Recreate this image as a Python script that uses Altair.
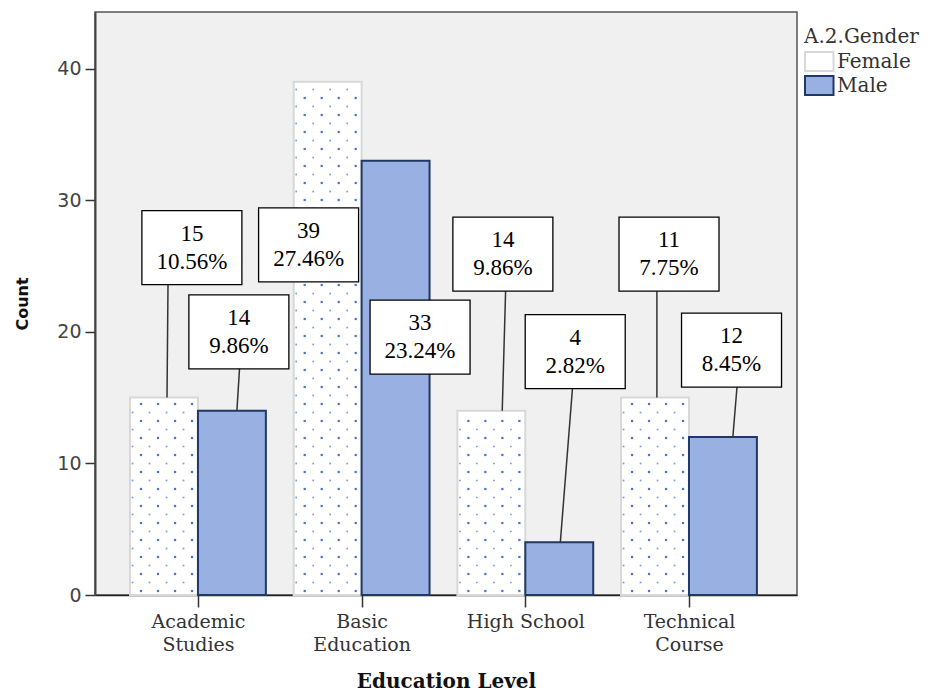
import json
import altair as alt
import pandas as pd

# ---------------- data ----------------
categories = ["Academic Studies", "Basic Education", "High School", "Technical Course"]
category_lines = [["Academic", "Studies"], ["Basic", "Education"], ["High School"], ["Technical", "Course"]]
genders = ["Female", "Male"]
female_counts = [15, 39, 14, 15]          # bar heights as drawn
male_counts = [14, 33, 4, 12]
female_label_counts = ["15", "39", "14", "11"]
male_label_counts = ["14", "33", "4", "12"]
female_pcts = ["10.56%", "27.46%", "9.86%", "7.75%"]
male_pcts = ["9.86%", "23.24%", "2.82%", "8.45%"]

# annotation placement (x in category units, y in counts)
female_label_x = [-0.037, 0.676, 1.863, 2.878]
female_label_y = [26.4, 26.6, 25.9, 25.9]
male_label_x = [0.250, 1.357, 2.305, 3.260]
male_label_y = [20.0, 19.6, 18.5, 18.6]
female_leader_top_x = [-0.181, 0.676, 1.886, 2.804]
female_leader_bot_x = [-0.189, 0.676, 1.859, 2.804]
male_leader_top_x = [0.268, 1.357, 2.306, 3.312]
male_leader_bot_x = [0.238, 1.357, 2.214, 3.268]

# ---------------- styling constants ----------------
BAR_W = 0.415
X_DOMAIN = [-0.629, 3.66]
Y_DOMAIN = [0, 44.3]
PX_X = 702 / (X_DOMAIN[1] - X_DOMAIN[0])
PX_Y = 583 / (Y_DOMAIN[1] - Y_DOMAIN[0])
SERIF = "Liberation Serif"
WIDE_SERIF = "DejaVu Serif"

# ---------------- tables ----------------
rows = []
for i, c in enumerate(categories):
    rows.append(dict(cat=c, gender="Female", count=female_counts[i], x0=i - BAR_W, x1=i))
    rows.append(dict(cat=c, gender="Male", count=male_counts[i], x0=i, x1=i + BAR_W))
bars_df = pd.DataFrame(rows)

lab = []
for i, c in enumerate(categories):
    lab.append(dict(cat=c, gender="Female", count=female_counts[i],
                    text=female_label_counts[i] + "\n" + female_pcts[i],
                    lx=female_label_x[i], ly=female_label_y[i],
                    tx=female_leader_top_x[i], bx=female_leader_bot_x[i]))
    lab.append(dict(cat=c, gender="Male", count=male_counts[i],
                    text=male_label_counts[i] + "\n" + male_pcts[i],
                    lx=male_label_x[i], ly=male_label_y[i],
                    tx=male_leader_top_x[i], bx=male_leader_bot_x[i]))
lab_df = pd.DataFrame(lab)
lead_df = lab_df[lab_df["count"] < lab_df["ly"]]

# dotted texture of the female bars (decorative pattern)
dots = []
row_a = [11, 28, 45, 62]
row_b = [2.5, 19.5, 36.5, 53.5]
for i, v in enumerate(female_counts):
    left = i - BAR_W
    h = v * PX_Y
    r = 0
    y = 4.0
    while y < h - 3:
        offs = row_a if r % 2 == 0 else row_b
        for o in offs:
            dots.append(dict(dx=left + o / PX_X, dy=y / PX_Y, kind="a" if r % 2 == 0 else "b"))
        r += 1
        y += 8.5
dots_df = pd.DataFrame(dots)

# ---------------- scales / axes ----------------
x_scale = alt.Scale(domain=X_DOMAIN, nice=False, zero=False)
y_scale = alt.Scale(domain=Y_DOMAIN, nice=False, zero=False)
label_expr = json.dumps(category_lines) + "[datum.value]"
x_axis = alt.Axis(values=[0, 1, 2, 3], labelExpr=label_expr, title="Education Level",
                  labelFont=WIDE_SERIF, labelFontSize=19, labelColor="#333", labelLineHeight=23,
                  labelFlush=False, labelOverlap=False, labelBound=False, labelPadding=5,
                  tickSize=12, tickColor="#333", tickWidth=1.5,
                  domainColor="#222", domainWidth=1.5,
                  titleFont=WIDE_SERIF, titleFontSize=20, titleFontWeight="bold", titleColor="#111",
                  titlePadding=17, grid=False)
y_axis = alt.Axis(values=[0, 10, 20, 30, 40], title="Count",
                  labelFont="DejaVu Sans", labelFontSize=19, labelColor="#444", labelPadding=4,
                  tickSize=10, tickColor="#333", tickWidth=1.5,
                  domainColor="#444", domainWidth=2,
                  titleFont="DejaVu Sans", titleFontSize=16, titleFontWeight="bold",
                  titleColor="#111", titlePadding=26, grid=False)

legend = alt.Legend(title="A.2.Gender", orient="none", legendX=709, legendY=15,
                    titleFont=WIDE_SERIF, titleFontSize=20, titleFontWeight="normal", titleColor="#333",
                    labelFont=WIDE_SERIF, labelFontSize=20, labelColor="#333",
                    symbolType="M-1,-1H2V1H-1Z", symbolSize=361, symbolStrokeWidth=2,
                    padding=0, rowPadding=-6, labelOffset=12, titlePadding=4)

bars = alt.Chart(bars_df).mark_rect(strokeWidth=2).encode(
    x=alt.X("x0:Q", scale=x_scale, axis=x_axis),
    x2="x1:Q",
    y=alt.Y("count:Q", scale=y_scale, axis=y_axis),
    y2=alt.datum(0),
    fill=alt.Fill("gender:N", scale=alt.Scale(domain=genders, range=["#ffffff", "#98b1e2"]), legend=legend),
    stroke=alt.Stroke("gender:N", scale=alt.Scale(domain=genders, range=["#d8d8d8", "#1f3864"]), legend=legend),
)

dot_layer = alt.Chart(dots_df).mark_square(opacity=1, strokeWidth=0).encode(
    x=alt.X("dx:Q", scale=x_scale, axis=x_axis),
    y=alt.Y("dy:Q", scale=y_scale, axis=y_axis),
    color=alt.Color("kind:N", scale=alt.Scale(domain=["a", "b"], range=["#4675d2", "#7e9ddf"]), legend=None),
    size=alt.Size("kind:N", scale=alt.Scale(domain=["a", "b"], range=[5, 3]), legend=None),
)

leaders = alt.Chart(lead_df).mark_rule(color="#333", strokeWidth=1.5).encode(
    x=alt.X("tx:Q", scale=x_scale, axis=x_axis),
    x2="bx:Q",
    y=alt.Y("ly:Q", scale=y_scale, axis=y_axis),
    y2="count:Q",
)

boxes = alt.Chart(lab_df).mark_point(shape="M-1,-0.74H1V0.74H-1Z", size=10000, filled=True,
                                     fill="white", stroke="black", strokeWidth=1.3, opacity=1).encode(
    x=alt.X("lx:Q", scale=x_scale, axis=x_axis),
    y=alt.Y("ly:Q", scale=y_scale, axis=y_axis),
)

texts = alt.Chart(lab_df).mark_text(font=SERIF, fontSize=23, lineHeight=28, lineBreak="\n",
                                    baseline="middle", align="center", color="black", dy=-14).encode(
    x=alt.X("lx:Q", scale=x_scale, axis=x_axis),
    y=alt.Y("ly:Q", scale=y_scale, axis=y_axis),
    text="text:N",
)

chart = alt.layer(bars, dot_layer, leaders, boxes, texts).resolve_scale(
    color="independent", size="independent"
).properties(
    width=702, height=583,
    autosize=alt.AutoSizeParams(type="none"),
    padding={"left": 95, "top": 12, "right": 131, "bottom": 98},
    background="white",
).configure_view(fill="#f0f0f0", stroke="#555", strokeWidth=1.5)

chart.save("out.html", embed_options={"renderer": "svg", "actions": False})
